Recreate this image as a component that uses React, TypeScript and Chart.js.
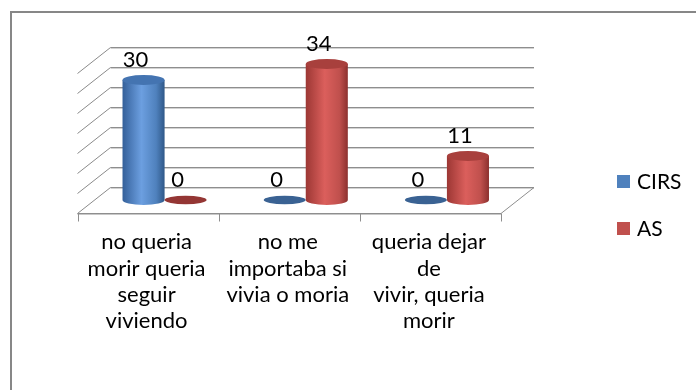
import React, { useEffect, useRef } from "react";
import { Chart, registerables } from "chart.js";

Chart.register(...registerables);

// Category labels (wrapped onto several lines)
const categories: string[][] = [
  ["no queria", "morir queria", "seguir", "viviendo"],
  ["no me", "importaba si", "vivia o moria"],
  ["queria dejar", "de", "vivir, queria", "morir"],
];
const seriesNames = ["CIRS", "AS"];
const cirsValues = [30, 0, 0];
const asValues = [0, 34, 11];
const yMax = 35;
const yStep = 5;

const FONT = "Lato, 'Open Sans', sans-serif";

// shading for each series' cylinders
const palettes = [
  { base: "#4F81BD", dark: "#34609a", light: "#6c9fe0", edge: "#2f5888", top: "#4474b1", flat: "#3a6293" },
  { base: "#C0504D", dark: "#9c3734", light: "#db5f5c", edge: "#8c302e", top: "#a8403d", flat: "#943634" },
];

// offset from the bar plane to the back wall of the 3D box
const DX = 16.5;
const DY = 13;

const box3d = {
  id: "box3d",
  beforeDraw(chart: any) {
    const { ctx } = chart;
    ctx.save();
    ctx.strokeStyle = "#878787";
    ctx.lineWidth = 2;
    ctx.beginPath();
    ctx.moveTo(10, 12);
    ctx.lineTo(chart.width, 12);
    ctx.moveTo(11, 12);
    ctx.lineTo(11, chart.height);
    ctx.stroke();
    ctx.restore();
  },
  beforeDatasetsDraw(chart: any) {
    const { ctx } = chart;
    const xs = chart.scales.x;
    const ys = chart.scales.y;
    const left = xs.left;
    const right = xs.right;
    ctx.save();
    // back wall grid lines + left wall diagonals
    for (const t of ys.ticks) {
      const y = Math.round(ys.getPixelForValue(t.value) - DY) + 0.5;
      ctx.strokeStyle = "#d2d2d2";
      ctx.lineWidth = 1;
      ctx.beginPath();
      ctx.moveTo(left + DX, y + 1);
      ctx.lineTo(right + DX, y + 1);
      ctx.stroke();
      ctx.strokeStyle = "#8e8e8e";
      ctx.beginPath();
      ctx.moveTo(left + DX, y);
      ctx.lineTo(right + DX, y);
      ctx.stroke();
      ctx.strokeStyle = "#8a8a8a";
      ctx.beginPath();
      ctx.moveTo(left + DX, y);
      ctx.lineTo(left - DX, y + 2 * DY);
      ctx.stroke();
    }
    // floor
    const yb = Math.round(ys.getPixelForValue(0) - DY) + 0.5;
    const yf = Math.round(ys.getPixelForValue(0) + DY) + 0.5;
    ctx.strokeStyle = "#8e8e8e";
    ctx.beginPath();
    ctx.moveTo(right + DX, yb);
    ctx.lineTo(right - DX, yf);
    ctx.stroke();
    ctx.strokeStyle = "#c8c8c8";
    ctx.beginPath();
    ctx.moveTo(left - DX, yf + 1);
    ctx.lineTo(right - DX, yf + 1);
    ctx.stroke();
    ctx.strokeStyle = "#8e8e8e";
    ctx.beginPath();
    ctx.moveTo(left - DX, yf);
    ctx.lineTo(right - DX, yf);
    ctx.stroke();
    // category tick marks on the front edge
    const n = chart.data.labels.length;
    const w = (right - left) / n;
    ctx.beginPath();
    for (let i = 0; i <= n; i++) {
      const x = Math.round(left - DX + i * w) + 0.5;
      ctx.moveTo(x, yf);
      ctx.lineTo(x, yf + 8);
    }
    ctx.stroke();
    ctx.restore();
  },
  afterDatasetsDraw(chart: any) {
    const { ctx } = chart;
    ctx.save();
    const labelsToDraw: { x: number; y: number; text: string }[] = [];
    chart.data.datasets.forEach((ds: any, di: number) => {
      const meta = chart.getDatasetMeta(di);
      const pal = palettes[di];
      meta.data.forEach((el: any, i: number) => {
        const { x, y, base, width } = el.getProps(["x", "y", "base", "width"], true);
        const v = ds.data[i];
        const rx = width / 2;
        const ry = 5;
        if (v === 0) {
          ctx.fillStyle = pal.flat;
          ctx.beginPath();
          ctx.ellipse(x, base, rx, 4.2, 0, 0, Math.PI * 2);
          ctx.fill();
        } else {
          const g = ctx.createLinearGradient(x - rx, 0, x + rx, 0);
          g.addColorStop(0, pal.dark);
          g.addColorStop(0.45, pal.light);
          g.addColorStop(0.8, pal.base);
          g.addColorStop(1, pal.edge);
          ctx.fillStyle = g;
          ctx.beginPath();
          ctx.moveTo(x - rx, y);
          ctx.lineTo(x - rx, base);
          ctx.ellipse(x, base, rx, ry, 0, Math.PI, 0, true);
          ctx.lineTo(x + rx, y);
          ctx.closePath();
          ctx.fill();
          ctx.fillStyle = pal.top;
          ctx.beginPath();
          ctx.ellipse(x, y, rx, ry, 0, 0, Math.PI * 2);
          ctx.fill();
        }
        labelsToDraw.push({ x: x - 8, y: y - 20, text: String(v) });
      });
    });
    ctx.fillStyle = "#000";
    ctx.font = `22px ${FONT}`;
    ctx.textAlign = "center";
    ctx.textBaseline = "middle";
    for (const l of labelsToDraw) ctx.fillText(l.text, l.x, l.y);

    // legend
    ctx.font = `21px ${FONT}`;
    ctx.textAlign = "left";
    chart.data.datasets.forEach((ds: any, di: number) => {
      const cy = 181.5 + di * 47;
      ctx.fillStyle = palettes[di].base;
      ctx.fillRect(617, cy - 6.5, 13, 13);
      ctx.fillStyle = "#000";
      ctx.fillText(ds.label, 637, cy + 1);
    });
    ctx.restore();
  },
};

export default function App() {
  const ref = useRef<HTMLCanvasElement | null>(null);

  useEffect(() => {
    document.body.style.margin = "0";
    const canvas = ref.current;
    if (!canvas) return;
    const chart = new Chart(canvas, {
      type: "bar",
      data: {
        labels: categories,
        datasets: [
          { label: seriesNames[0], data: cirsValues, backgroundColor: "rgba(0,0,0,0)", borderWidth: 0 },
          { label: seriesNames[1], data: asValues, backgroundColor: "rgba(0,0,0,0)", borderWidth: 0 },
        ],
      },
      options: {
        responsive: false,
        animation: false,
        devicePixelRatio: 1,
        layout: { padding: { left: 94, right: 178.5, top: 60, bottom: 0 } },
        datasets: { bar: { categoryPercentage: 0.596, barPercentage: 1 } },
        plugins: { legend: { display: false }, tooltip: { enabled: false } },
        scales: {
          x: {
            grid: { display: false, drawTicks: false },
            border: { display: false },
            afterFit: (scale: any) => {
              scale.height = 190;
            },
            ticks: {
              maxRotation: 0,
              autoSkip: false,
              labelOffset: -18,
              padding: 29,
              color: "#000",
              font: { family: FONT, size: 22, lineHeight: 1.2 },
            },
          },
          y: {
            display: false,
            min: 0,
            max: yMax,
            ticks: { stepSize: yStep },
          },
        },
      },
      plugins: [box3d],
    });
    return () => chart.destroy();
  }, []);

  return (
    <div style={{ width: 696, height: 390, background: "#fff" }}>
      <canvas ref={ref} width={696} height={390} />
    </div>
  );
}
